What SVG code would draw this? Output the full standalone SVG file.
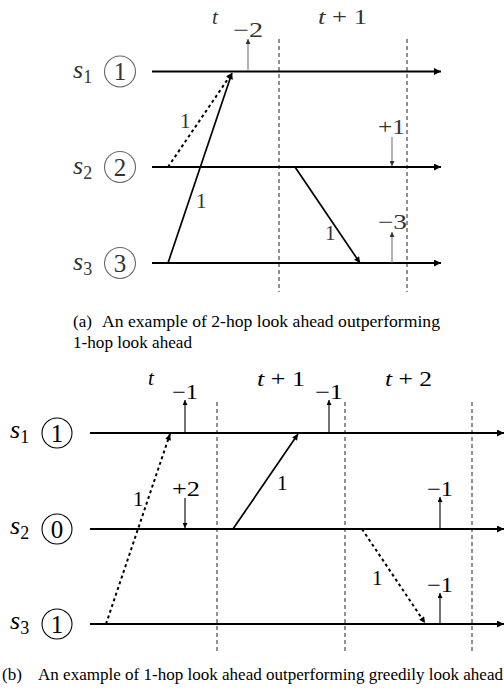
<svg xmlns="http://www.w3.org/2000/svg" width="504" height="695" viewBox="0 0 504 695" font-family="'Liberation Serif', 'Times New Roman', 'DejaVu Serif', serif">
<style>
  .lane { stroke: #000; stroke-width: 2; fill: none; }
  .vdash { stroke: #222; stroke-width: 1; stroke-dasharray: 4 3; fill: none; }
  .diag { stroke: #000; stroke-width: 1.7; fill: none; }
  .dot { stroke: #000; stroke-width: 2; stroke-dasharray: 3 3; fill: none; }
  .tick { stroke: #000; stroke-width: 1.1; fill: none; }
  .tickA { stroke: #777; stroke-width: 1.1; fill: none; }
  text { font-family: 'Liberation Serif', 'Times New Roman', 'DejaVu Serif', serif; }
  .m { font-size: 21px; fill: #000; }
  .ma { fill: #333; }
  .it { font-style: italic; }
  .sv { font-size: 26px; font-style: italic; }
  .sub { font-size: 18px; font-style: normal; }
  .cd { font-size: 25px; text-anchor: middle; }
  .circA { fill: none; stroke: #666; stroke-width: 1.1; }
  .circB { fill: none; stroke: #000; stroke-width: 1.1; }
  .cap { font-size: 17px; fill: #000; }
</style>
<defs>
  <marker id="big" viewBox="0 0 10 10" refX="10" refY="5" markerWidth="10" markerHeight="7" markerUnits="userSpaceOnUse" orient="auto"><path d="M0,0 L10,5 L0,10 z" fill="#000"/></marker>
  <marker id="mid" viewBox="0 0 10 10" refX="10" refY="5" markerWidth="8" markerHeight="6" markerUnits="userSpaceOnUse" orient="auto"><path d="M0,0 L10,5 L0,10 z" fill="#000"/></marker>
  <marker id="sm" viewBox="0 0 10 10" refX="10" refY="5" markerWidth="7" markerHeight="5" markerUnits="userSpaceOnUse" orient="auto"><path d="M0,0 L10,5 L0,10 z" fill="#000"/></marker>
  <marker id="smA" viewBox="0 0 10 10" refX="10" refY="5" markerWidth="7" markerHeight="5" markerUnits="userSpaceOnUse" orient="auto"><path d="M0,0 L10,5 L0,10 z" fill="#333"/></marker>
</defs>

<!-- ===== Part (a) ===== -->
<g id="a-time-labels" class="m ma">
  <text x="212" y="24" class="it">t</text>
  <text x="318" y="24" textLength="49" lengthAdjust="spacingAndGlyphs"><tspan class="it">t</tspan> + 1</text>
</g>
<g id="a-s1">
  <text x="73" y="78" class="sv" fill="#333">s<tspan class="sub" dy="5">1</tspan></text>
  <circle cx="120" cy="71.5" r="15.5" class="circA"/>
  <text x="120" y="80" class="cd" fill="#333">1</text>
</g>
<g id="a-s2">
  <text x="73" y="174" class="sv" fill="#333">s<tspan class="sub" dy="5">2</tspan></text>
  <circle cx="120" cy="167" r="15.5" class="circA"/>
  <text x="120" y="176" class="cd" fill="#333">2</text>
</g>
<g id="a-s3">
  <text x="73" y="270" class="sv" fill="#333">s<tspan class="sub" dy="5">3</tspan></text>
  <circle cx="120" cy="263" r="15.5" class="circA"/>
  <text x="120" y="272" class="cd" fill="#333">3</text>
</g>
<g id="a-connectors">
  <line x1="279" y1="39" x2="279" y2="292" class="vdash"/>
  <line x1="407" y1="39" x2="407" y2="292" class="vdash"/>
  <line x1="152" y1="71.5" x2="441" y2="71.5" class="lane" marker-end="url(#big)"/>
  <line x1="152" y1="167" x2="441" y2="167" class="lane" marker-end="url(#big)"/>
  <line x1="152" y1="263" x2="441" y2="263" class="lane" marker-end="url(#big)"/>
  <line x1="168" y1="167" x2="232" y2="73" class="dot" marker-end="url(#mid)"/>
  <line x1="168" y1="263" x2="232" y2="73" class="diag" marker-end="url(#mid)"/>
  <line x1="295" y1="167" x2="360" y2="263" class="diag" marker-end="url(#mid)"/>
  <line x1="248" y1="71" x2="248" y2="39" class="tickA" marker-end="url(#smA)"/>
  <line x1="392" y1="137" x2="392" y2="166" class="tickA" marker-end="url(#smA)"/>
  <line x1="392" y1="263" x2="392" y2="232" class="tickA" marker-end="url(#smA)"/>
</g>
<g id="a-labels" class="m ma">
  <text x="233" y="37" textLength="30" lengthAdjust="spacingAndGlyphs">−2</text>
  <text x="378" y="134" textLength="27" lengthAdjust="spacingAndGlyphs">+1</text>
  <text x="378" y="229" textLength="29" lengthAdjust="spacingAndGlyphs">−3</text>
  <text x="180" y="128">1</text>
  <text x="196" y="208">1</text>
  <text x="325" y="240">1</text>
</g>
<g id="a-caption" class="cap">
  <text x="73" y="327">(a)</text>
  <text x="102" y="327" textLength="338" lengthAdjust="spacingAndGlyphs">An example of 2-hop look ahead outperforming</text>
  <text x="73" y="348" textLength="119" lengthAdjust="spacingAndGlyphs">1-hop look ahead</text>
</g>

<!-- ===== Part (b) ===== -->
<g id="b-time-labels" class="m">
  <text x="148" y="385" class="it">t</text>
  <text x="257" y="386" textLength="48" lengthAdjust="spacingAndGlyphs"><tspan class="it">t</tspan> + 1</text>
  <text x="385" y="386" textLength="47" lengthAdjust="spacingAndGlyphs"><tspan class="it">t</tspan> + 2</text>
</g>
<g id="b-s1">
  <text x="10" y="438" class="sv">s<tspan class="sub" dy="5">1</tspan></text>
  <circle cx="57" cy="433" r="15" class="circB"/>
  <text x="57" y="442" class="cd">1</text>
</g>
<g id="b-s2">
  <text x="10" y="534" class="sv">s<tspan class="sub" dy="5">2</tspan></text>
  <circle cx="57" cy="529" r="15" class="circB"/>
  <text x="57" y="538" class="cd">0</text>
</g>
<g id="b-s3">
  <text x="10" y="629" class="sv">s<tspan class="sub" dy="5">3</tspan></text>
  <circle cx="57" cy="624" r="15" class="circB"/>
  <text x="57" y="633" class="cd">1</text>
</g>
<g id="b-connectors">
  <line x1="217" y1="402" x2="217" y2="652" class="vdash"/>
  <line x1="345" y1="402" x2="345" y2="652" class="vdash"/>
  <line x1="472" y1="402" x2="472" y2="652" class="vdash"/>
  <line x1="90" y1="433" x2="504" y2="433" class="lane" marker-end="url(#big)"/>
  <line x1="90" y1="529" x2="504" y2="529" class="lane" marker-end="url(#big)"/>
  <line x1="90" y1="624" x2="504" y2="624" class="lane" marker-end="url(#big)"/>
  <line x1="106" y1="624" x2="170" y2="434" class="dot" marker-end="url(#mid)"/>
  <line x1="233" y1="529" x2="298" y2="434" class="diag" marker-end="url(#mid)"/>
  <line x1="362" y1="529" x2="425" y2="623" class="dot" marker-end="url(#mid)"/>
  <line x1="185" y1="433" x2="185" y2="400" class="tick" marker-end="url(#sm)"/>
  <line x1="329" y1="433" x2="329" y2="400" class="tick" marker-end="url(#sm)"/>
  <line x1="185" y1="498" x2="185" y2="528" class="tick" marker-end="url(#sm)"/>
  <line x1="440" y1="529" x2="440" y2="497" class="tick" marker-end="url(#sm)"/>
  <line x1="440" y1="624" x2="440" y2="593" class="tick" marker-end="url(#sm)"/>
</g>
<g id="b-labels" class="m">
  <text x="172" y="399" textLength="26" lengthAdjust="spacingAndGlyphs">−1</text>
  <text x="315" y="399" textLength="28" lengthAdjust="spacingAndGlyphs">−1</text>
  <text x="172" y="496" textLength="28" lengthAdjust="spacingAndGlyphs">+2</text>
  <text x="427" y="496" textLength="26" lengthAdjust="spacingAndGlyphs">−1</text>
  <text x="427" y="592" textLength="26" lengthAdjust="spacingAndGlyphs">−1</text>
  <text x="133" y="506">1</text>
  <text x="277" y="490">1</text>
  <text x="372" y="585">1</text>
</g>
<g id="b-caption" class="cap">
  <text x="2" y="680">(b)</text>
  <text x="38" y="680" textLength="465" lengthAdjust="spacingAndGlyphs">An example of 1-hop look ahead outperforming greedily look ahead</text>
</g>
</svg>
